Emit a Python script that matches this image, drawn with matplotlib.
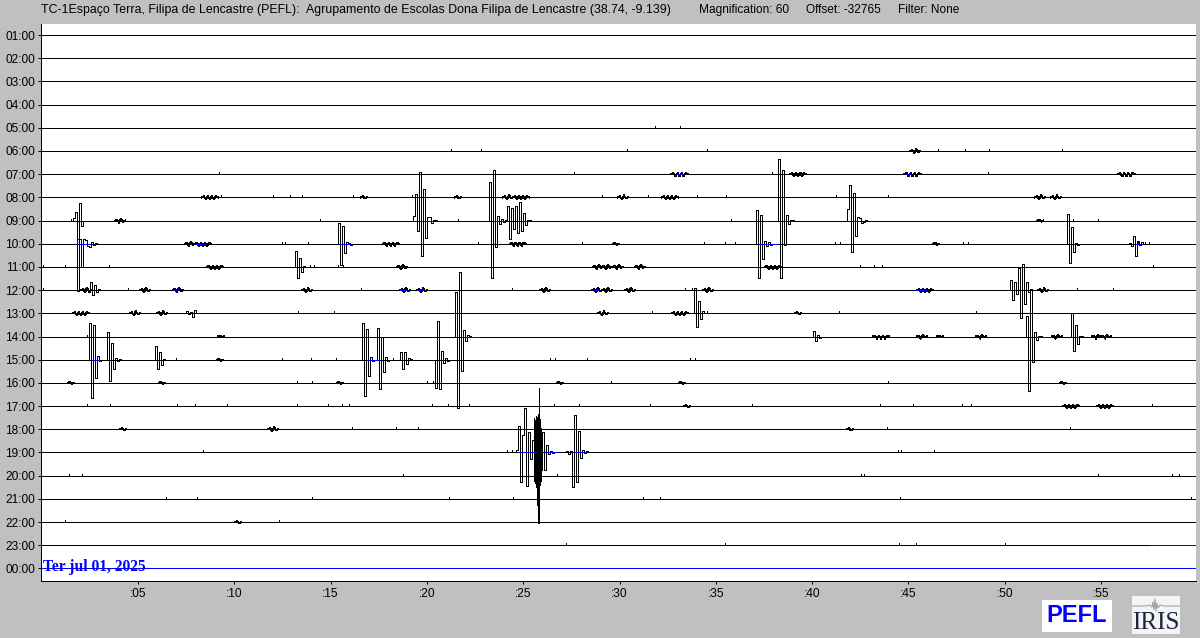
import matplotlib
matplotlib.use('Agg')
import matplotlib.pyplot as plt
from matplotlib.patches import Rectangle

# Small wiggle shapes seen over and over on the traces
TINY = [1, -1]
SMALL = [1, -2, 2, -1]
TRI = [1, -2, 1, -2, 1, -2, 1]

hour_labels = ['01:00', '02:00', '03:00', '04:00', '05:00', '06:00', '07:00', '08:00',
               '09:00', '10:00', '11:00', '12:00', '13:00', '14:00', '15:00', '16:00',
               '17:00', '18:00', '19:00', '20:00', '21:00', '22:00', '23:00', '00:00']
minute_ticks = [5, 10, 15, 20, 25, 30, 35, 40, 45, 50, 55]

# Isolated one-sample blips, in minutes, per trace
dots_05 = [31.84, 33.14]
dots_06 = [21.25, 22.81, 30.39, 34.54, 46.54, 47.94, 49.18, 52.97]
dots_07 = [9.2, 27.64, 37.92, 39.4, 49.14]
dots_08 = [9.31, 12.01, 12.89, 13.52, 16.16, 19.23, 29.09, 31.48, 34.02, 35.53, 41.24, 43.94]
dots_09 = [1.52, 14.45, 21.6, 35.79, 53.55, 54.85]
dots_10 = [12.47, 12.63, 13.83, 22.65, 28.05, 34.39, 35.48, 35.99, 41.19, 41.45, 47.83, 48.09,
           56.92, 57.28, 57.49]
dots_11 = [0.07, 1.21, 3.49, 13.94, 14.14, 15.38, 15.64, 42.49, 43.22, 43.63, 57.7]
dots_12 = [0.07, 4.48, 16.58, 24.42, 33.4, 33.76, 53.75, 55.62]
dots_13 = [13.31, 15.17, 31.69, 34.54, 41.4, 48.51]
dots_14 = [2.35]
dots_15 = [6.97, 12.47, 13.98, 15.28, 18.24, 26.39, 26.65, 28.31, 33.66, 33.92]
dots_16 = [13.25, 14.03, 20.0, 20.31, 29.56, 43.94]
dots_17 = [2.35, 3.55, 7.02, 7.96, 9.62, 13.25, 14.86, 15.59, 15.95, 20.26, 21.09, 22.18, 26.6,
           27.9, 31.58, 36.87, 43.52, 45.23, 47.78, 48.24, 57.65]
dots_18 = [16.11, 18.39, 19.54, 43.89, 53.39]
dots_19 = [8.37, 24.16, 24.42, 44.46, 44.61, 46.33]
dots_20 = [1.42, 2.09, 18.76, 26.75, 42.55, 42.7, 54.85, 58.69, 59.05]
dots_21 = [6.45, 8.06, 14.03, 21.15, 24.47, 31.22, 32.1, 44.56, 59.67]
dots_22 = [1.21, 12.32]
dots_23 = [27.22, 35.47, 44.51, 45.39, 50.02]

# Wiggles: (start minute, amplitudes), amplitude positive is up
events_06 = [(45.1, SMALL)]
events_07 = [(32.7, TRI), (38.85, TRI), (44.8, TRI), (55.9, TRI)]
events_08 = [(8.32, TRI), (16.58, TINY), (21.46, TINY), (23.95, SMALL), (24.47, TRI), (29.92, SMALL),
             (32.2, TRI), (51.57, SMALL), (52.4, SMALL)]
events_09 = [(1.62, [3, 9, -70, 18, -5]), (3.81, SMALL), (19.27, [5, 27, -10, 49, -35, 32, -17, 4, 4, -2, 1, 1]),
             (23.22, [39, -57, 51, -26, 5, -3, 2, -1, 1, 15, -18, 13, -8, 15, -12, 19, -10, 8, -4, 1, 1]),
             (38.21, [61, -57, 51, -24, 6, -3, 1, 1]), (41.81, [12, 36, -31, 28, -15, 4, 3, -2, -1, 1]),
             (51.68, TINY)]
events_10 = [(1.85, [5, 5, -23, 5, 4, -2, -3, 2, -1, 1]), (7.44, SMALL), (7.96, TRI), (15.38, [21, -21, 18, -9, 2, 1, -1]),
             (17.71, TRI), (24.3, TRI), (29.66, TINY), (37.08, [34, -34, 29, -15, 3, -2, 2, -1]),
             (46.28, TINY), (53.24, [30, -19, 17, -8, 1, -1]), (56.46, [1, -2, 8, -12, 3, -1, 2])]
events_11 = [(8.58, TRI), (13.15, [16, -11, 9, -5, 1]), (18.45, SMALL), (28.62, SMALL), (29.09, SMALL),
             (29.66, SMALL), (30.8, SMALL), (37.55, TRI)]
events_12 = [(2.04, SMALL), (2.3, [1, -2, 8, -5, 5, -2, 1]), (5.1, SMALL), (6.81, SMALL), (13.52, SMALL), (18.6, SMALL),
             (19.49, SMALL), (25.87, SMALL), (28.57, SMALL), (29.09, SMALL), (30.28, SMALL), (34.33, SMALL),
             (45.44, TRI), (50.28, [10, -10, 8, -4, 22, -28, 26, -14, 8, -2, 1]), (51.73, SMALL)]
events_13 = [(1.62, TRI), (4.58, SMALL), (5.99, SMALL), (7.5, [2, -1, 1, -4, 3]), (28.88, SMALL), (32.72, TRI),
             (33.87, [25, -14, 12, -6, 2]), (39.12, TINY)]
events_14 = [(9.15, TINY), (21.45, [44, -71, 64, -34, 7, -4, 2, 1]), (40.05, [6, -4, 2, -1]), (43.16, TRI),
             (45.44, SMALL), (46.48, TINY), (48.51, SMALL), (51.1, [20, -54, 46, -25, 5, -3, 1, 1]),
             (52.45, SMALL), (53.44, [23, -14, 12, -7, 1, 1]), (54.53, SMALL), (55.0, SMALL)]
events_15 = [(2.46, [37, -38, 35, -18, 4, -1]), (3.37, [28, -21, 17, -9, 2, -1, 1]), (5.88, [14, -9, 8, -5, 1]),
             (9.1, TINY), (16.64, [37, -36, 31, -16, 3, -1]), (17.41, [32, -29, 23, -12, 3, -1]),
             (18.6, [8, -9, 8, -4, 2, 1]), (20.42, [-28, 39, -29, 9, -3, 2, -1])]
events_16 = [(1.37, TINY), (6.09, TINY), (15.33, TINY), (26.75, TINY), (33.09, TINY), (52.87, TINY)]
events_17 = [(33.35, TINY), (53.03, TRI), (54.79, TRI)]
events_18 = [(4.07, TINY), (11.75, SMALL), (41.81, TINY)]
events_19 = [(24.63, [2, 26, -29, 17, 44, -33, 20, -7, 12]), (26.0, [20, -18, 7, -2, 1, -1]),
             (27.23, [1, -2, 1, -34, 37, -29, 21, -6, 2, -1, 1])]
events_22 = [(10.04, TINY)]

# The dense core of the 19:00 burst is sampled finer
burst_start = 25.56
burst_amps = [34, -28, 32, -30, 36, -34, 35, -52, 38, -70, 64, -32, 33, -28, 24, -18]

# Stretches of trace drawn in blue: (minute from, minute to)
blue_07 = [(33.0, 33.3), (44.9, 45.1)]
blue_09 = [(19.6, 20.3), (23.5, 24.1), (24.9, 25.3), (38.6, 39.0), (42.0, 42.5)]
blue_10 = [(1.83, 2.5), (7.96, 8.5), (15.5, 16.0), (37.3, 38.1), (56.8, 57.0)]
blue_12 = [(6.8, 7.1), (18.6, 18.9), (19.5, 19.8), (28.7, 28.9), (45.4, 45.9)]
blue_14 = [(21.8, 22.7), (45.5, 45.7), (46.5, 46.7), (51.6, 52.4), (53.7, 53.9), (55.1, 55.3)]
blue_15 = [(2.6, 3.0), (16.9, 17.5)]
blue_16 = [(15.3, 15.5)]
blue_18 = [(11.7, 11.9)]
blue_19 = [(24.8, 25.6), (26.2, 26.7), (27.6, 28.2)]
blue_23 = [(57.54, 60.0)]
blue_24 = [(0.0, 60.0)]

row_dots = {5: dots_05, 6: dots_06, 7: dots_07, 8: dots_08, 9: dots_09, 10: dots_10, 11: dots_11,
            12: dots_12, 13: dots_13, 14: dots_14, 15: dots_15, 16: dots_16, 17: dots_17, 18: dots_18,
            19: dots_19, 20: dots_20, 21: dots_21, 22: dots_22, 23: dots_23}
row_events = {6: events_06, 7: events_07, 8: events_08, 9: events_09, 10: events_10, 11: events_11,
              12: events_12, 13: events_13, 14: events_14, 15: events_15, 16: events_16, 17: events_17,
              18: events_18, 19: events_19, 22: events_22}
row_blue = {7: blue_07, 9: blue_09, 10: blue_10, 12: blue_12, 14: blue_14, 15: blue_15, 16: blue_16,
            18: blue_18, 19: blue_19, 23: blue_23, 24: blue_24}

STEP = 0.104        # minutes between samples
FINE_STEP = 0.026
ROW_AMP = 23.17     # amplitude units per trace spacing
LINE_W = 0.72
GRAY = '#c0c0c0'


def draw_wiggle(ax, row, start, amps, step):
    # big swings look like hollow boxes on the helicorder, tiny ones are just little vees
    big = max(abs(a) for a in amps) > 3
    if big:
        xs = [start] + [start + i * step for i in range(len(amps) + 1)]
        style = 'steps-post'
    else:
        xs = [start + i * step for i in range(len(amps) + 2)]
        style = 'default'
    ys = [row] + [row - a / ROW_AMP for a in amps] + [row]
    ax.plot(xs, ys, color='black', lw=LINE_W, drawstyle=style, antialiased=False, zorder=3)


W, H = 1200, 638
fig = plt.figure(figsize=(W / 100, H / 100), dpi=100, facecolor=GRAY)
plt.rcParams['font.family'] = ['Liberation Sans', 'DejaVu Sans']

ax = fig.add_axes([40.5 / W, 1 - 580.5 / H, (1196 - 40.5) / W, (580.5 - 24) / H])
ax.set_xlim(-0.06, 59.93)
ax.set_ylim(24.52, 0.525)

# Base lines of the 24 traces
for row in range(1, 25):
    color = 'blue' if row == 24 else 'black'
    ax.plot([-0.06, 59.93], [row, row], color=color, lw=LINE_W, antialiased=False, zorder=1)

for row, spans in row_blue.items():
    for x0, x1 in spans:
        ax.plot([x0, min(x1, 59.93)], [row, row], color='blue', lw=LINE_W, antialiased=False, zorder=4)

for row, dots in row_dots.items():
    ax.vlines(dots, row - 2 / ROW_AMP, row, color='black', lw=LINE_W, antialiased=False, zorder=3)

for row, events in row_events.items():
    for start, amps in events:
        draw_wiggle(ax, row, start, amps, STEP)

draw_wiggle(ax, 19, burst_start, burst_amps, FINE_STEP)

ax.text(0.05, 23.93, 'Ter jul 01, 2025', color='blue', fontsize=11.2, fontweight='bold',
        family='Liberation Serif', va='center', ha='left', zorder=5)

ax.set_yticks(range(1, 25))
ax.set_yticklabels(hour_labels)
ax.set_xticks(minute_ticks)
ax.set_xticklabels([':%02d' % m for m in minute_ticks])
ax.tick_params(axis='both', length=2.5, width=LINE_W, labelsize=8.6, pad=1.5)
ax.tick_params(axis='x', pad=3)
ax.spines['top'].set_visible(False)
ax.spines['right'].set_visible(False)
for side in ['left', 'bottom']:
    ax.spines[side].set_linewidth(LINE_W)
    ax.spines[side].set_antialiased(False)

# Header line
fig.text(41 / W, 1 - 10 / H, 'TC-1Espaço Terra, Filipa de Lencastre (PEFL):', fontsize=8.95, va='center')
fig.text(306 / W, 1 - 10 / H, 'Agrupamento de Escolas Dona Filipa de Lencastre (38.74, -9.139)', fontsize=8.95, va='center')
fig.text(699 / W, 1 - 10 / H, 'Magnification: 60', fontsize=8.6, va='center')
fig.text(806 / W, 1 - 10 / H, 'Offset: -32765', fontsize=8.6, va='center')
fig.text(898 / W, 1 - 10 / H, 'Filter: None', fontsize=8.6, va='center')

# Station badge
fig.add_artist(Rectangle((1042 / W, 1 - 632 / H), 70 / W, 32 / H, transform=fig.transFigure,
                         facecolor='white', edgecolor='none'))
fig.text(1077 / W, 1 - 616 / H, 'PEFL', color='blue', fontsize=17, fontweight='bold', ha='center', va='center')

# IRIS logo
logo_wave_x = [0, 14, 18, 20, 21, 22, 23, 24, 25, 26, 28, 32, 48]
logo_wave_y = [0, 0, 1, -1, 4, -4, 7, -5, 3, -2, 1, 0, 0]
logo = fig.add_axes([1132 / W, 1 - 634 / H, 48 / W, 38 / H], facecolor='#f4f4f4')
logo.set_xlim(0, 48)
logo.set_ylim(-28, 10)
logo.set_xticks([])
logo.set_yticks([])
for s in logo.spines.values():
    s.set_visible(False)
logo.plot(logo_wave_x, logo_wave_y, color='#9a9a9a', lw=0.7)
logo.text(24, -17, 'IRIS', color='#1b2444', fontsize=18, family='Liberation Serif', ha='center', va='center')

fig.savefig('out.png', dpi=100, facecolor=GRAY)
